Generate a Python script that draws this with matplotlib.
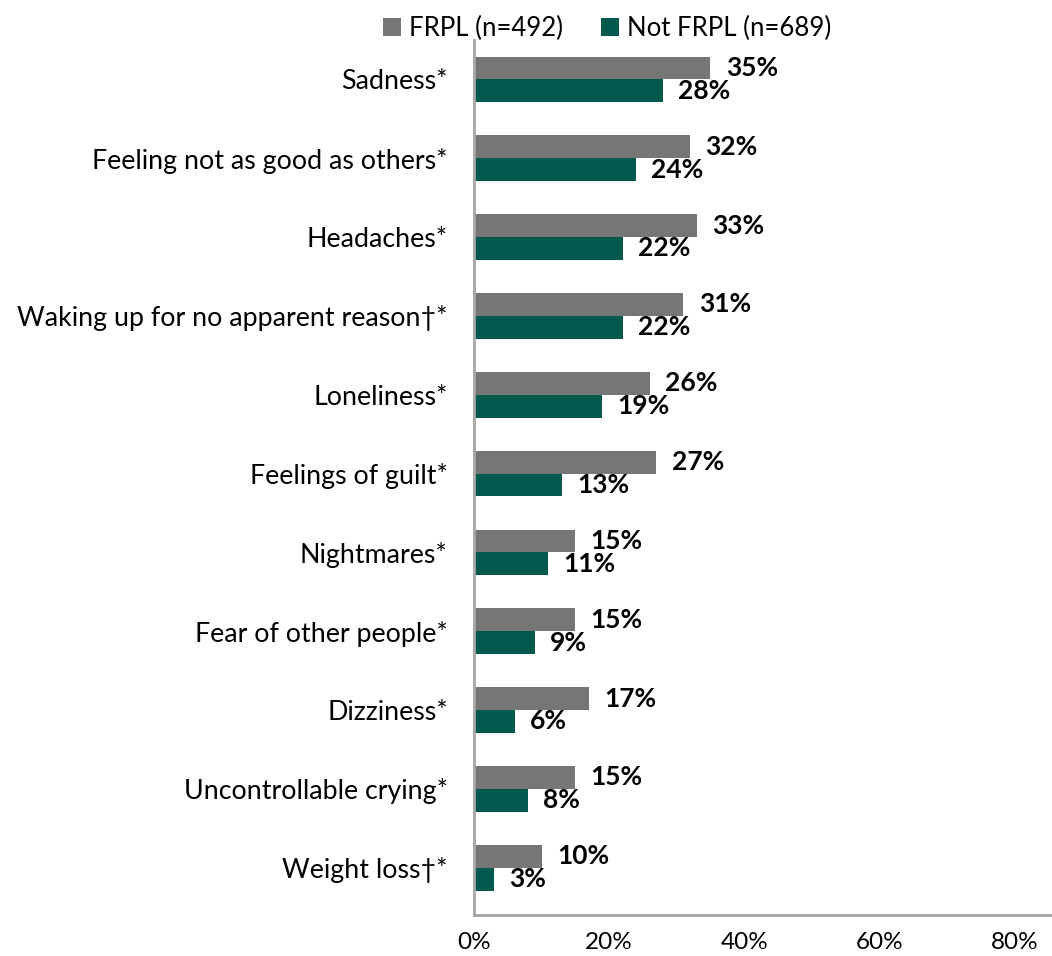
import matplotlib
matplotlib.use("Agg")
import matplotlib.pyplot as plt
import numpy as np

plt.rcParams['font.family'] = ['Lato', 'DejaVu Sans']

categories = ["Sadness*", "Feeling not as good as others*", "Headaches*",
              "Waking up for no apparent reason\u2020*", "Loneliness*",
              "Feelings of guilt*", "Nightmares*", "Fear of other people*",
              "Dizziness*", "Uncontrollable crying*", "Weight loss\u2020*"]
frpl = [35, 32, 33, 31, 26, 27, 15, 15, 17, 15, 10]
not_frpl = [28, 24, 22, 22, 19, 13, 11, 9, 6, 8, 3]
series_names = ["FRPL (n=492)", "Not FRPL (n=689)"]
xticks = [0, 20, 40, 60, 80]

GRAY = "#767676"
TEAL = "#00594C"
SPINE = "#A6A6A6"

fig = plt.figure(figsize=(10.52, 9.56), dpi=100)
ax = fig.add_axes([0.4506, 0.0429, 0.5494, 0.9153])

y = np.arange(len(categories))
h = 0.29
b1 = ax.barh(y - h / 2, frpl, height=h, color=GRAY, label=series_names[0])
b2 = ax.barh(y + h / 2, not_frpl, height=h, color=TEAL, label=series_names[1])

# value labels sit a little to the right of each bar end
for bars, vals in ((b1, frpl), (b2, not_frpl)):
  for bar, v in zip(bars, vals):
    ax.annotate(f"{v}%", (v, bar.get_y() + bar.get_height() / 2),
                xytext=(11, 0), textcoords="offset points",
                ha="left", va="center", fontsize=19, fontweight="bold")

ax.set_xlim(0, 85.6)
ax.set_ylim(10.6, -0.5)
ax.set_yticks(y)
ax.set_yticklabels(categories, fontsize=19.3)
ax.set_xticks(xticks)
ax.set_xticklabels([f"{t}%" for t in xticks], fontsize=17.5)
ax.tick_params(axis="y", length=0, pad=19)
ax.tick_params(axis="x", length=0, pad=12)

for s in ("top", "right"):
  ax.spines[s].set_visible(False)
for s in ("left", "bottom"):
  ax.spines[s].set_color(SPINE)
  ax.spines[s].set_linewidth(2)

fig.legend(handles=[b1, b2], loc="upper center", bbox_to_anchor=(0.577, 1.008),
           ncol=2, frameon=False, fontsize=18.5, handlelength=0.7,
           handleheight=0.7, handletextpad=0.3, columnspacing=1.5)

fig.savefig("out.png", dpi=100)
